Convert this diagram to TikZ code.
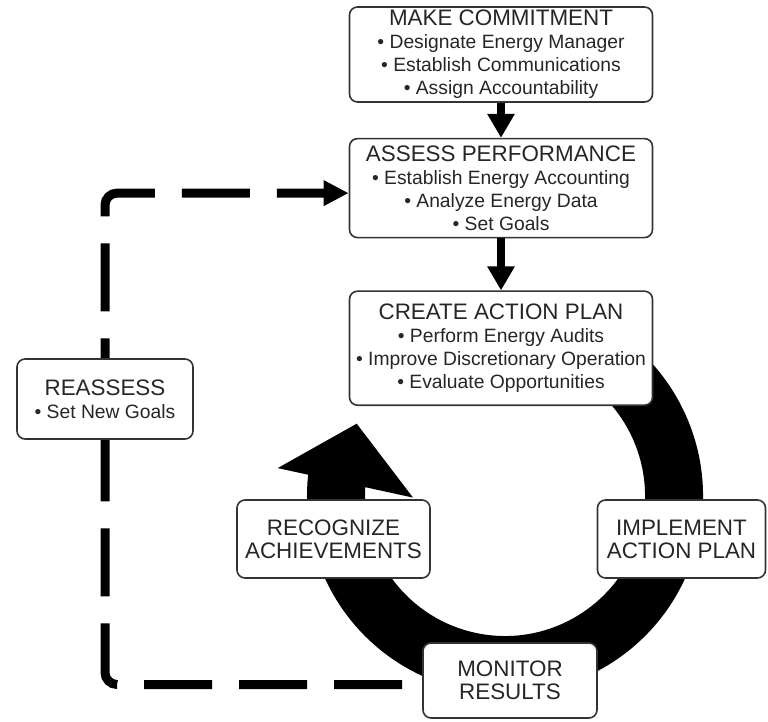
\documentclass[tikz,border=0pt]{standalone}
\usepackage{fontspec}
\setmainfont{Liberation Sans}
\usetikzlibrary{arrows.meta,calc,positioning,backgrounds}

\newcommand{\stagetitle}[1]{{\fontsize{22.4}{23}\selectfont #1}}

\begin{document}
\begin{tikzpicture}[x=1pt,y=1pt,align=center,node distance=35pt,
    stage/.style={draw=black!80,line width=1.6pt,fill=white,rounded corners=8pt,inner sep=0pt,
      text=black!85,font=\fontsize{19.3}{23}\selectfont},
    bigstage/.style={stage,font=\fontsize{22.4}{23}\selectfont},
    flow/.style={line width=8pt,-{Triangle[length=24pt,width=26pt]}},
    loopback/.style={line width=9pt,dash pattern=on 68pt off 27pt,dash phase=75pt,
      rounded corners=12pt,-{Triangle[length=25pt,width=24pt]}}]
	\useasboundingbox (0,0) rectangle (768,721);
	\coordinate (hub) at (505,225);
	% the cycle ring, behind the boxes
	\draw[line width=58pt] ($(hub)+(75:169)$) arc[start angle=75,end angle=-188,radius=169];
	\fill ($(hub)+(173:229)$) -- ($(hub)+(154:165)$) -- ($(hub)+(181:92)$) -- cycle;

	\node[stage,minimum width=303pt,minimum height=95pt] (commit) at (501,666.5)
		{\stagetitle{MAKE COMMITMENT}\\• Designate Energy Manager\\• Establish Communications\\• Assign Accountability};
	\node[stage,minimum width=303pt,minimum height=99pt] [below=of commit] (assess)
		{\stagetitle{ASSESS PERFORMANCE}\\• Establish Energy Accounting\\• Analyze Energy Data\\• Set Goals};
	\node[stage,minimum width=303pt,minimum height=114pt] [below=52pt of assess] (plan)
		{\stagetitle{CREATE ACTION PLAN}\\• Perform Energy Audits\\• Improve Discretionary Operation\\• Evaluate Opportunities};
	\node[bigstage,minimum width=168pt,minimum height=78pt] (implement) at (681.5,182) {IMPLEMENT\\ACTION PLAN};
	\node[bigstage,minimum width=174pt,minimum height=75pt] (monitor) at (510,40.5) {MONITOR\\RESULTS};
	\node[bigstage,minimum width=193pt,minimum height=78pt] (recognize) at (333.5,182) {RECOGNIZE\\ACHIEVEMENTS};
	\node[stage,minimum width=176pt,minimum height=80pt] (reassess) at (105,322)
		{\stagetitle{REASSESS}\\• Set New Goals};

	\draw[flow] (commit) -- (assess);
	\draw[flow] (assess) -- (plan);
	\begin{scope}[on background layer]
		\draw[loopback] ([yshift=-4pt]monitor.west) -| (reassess.center) |- ([yshift=-5pt]assess.west);
	\end{scope}
\end{tikzpicture}
\end{document}
